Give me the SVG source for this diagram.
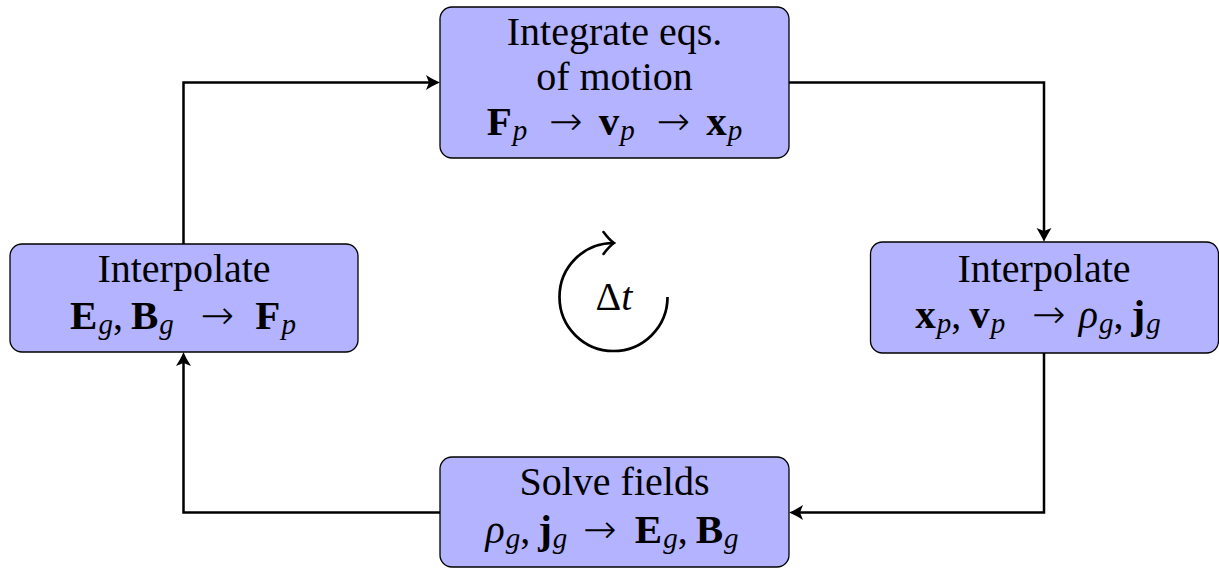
<svg xmlns="http://www.w3.org/2000/svg" width="1219" height="568" viewBox="0 0 1219 568">
<style>
.box{fill:#b3b3ff;stroke:#000;stroke-width:1.3}
.t{font-family:"Liberation Serif","DejaVu Serif",serif;font-size:40px;fill:#000}
.b{font-weight:bold;font-size:41px}
.i{font-style:italic}
.s{font-style:italic;font-size:29px}
.ar{font-family:"DejaVu Sans",sans-serif;font-weight:200;font-size:40px}
.c{fill:none;stroke:#000;stroke-width:2.5}
</style>
<defs>
<marker id="ah" markerUnits="userSpaceOnUse" viewBox="-16 -9 17 18" markerWidth="17" markerHeight="18" refX="-6" refY="0" orient="auto">
<path d="M0,0 C-5,-2 -10,-5 -14,-7.5 L-11,0 L-14,7.5 C-10,5 -5,2 0,0 Z" fill="#000"/>
</marker>
<marker id="to" markerUnits="userSpaceOnUse" viewBox="-14 -14 16 28" markerWidth="16" markerHeight="28" refX="0" refY="0" orient="auto">
<path d="M-10,-11 Q-4,-3 0.5,0 Q-4,3 -10,11" fill="none" stroke="#000" stroke-width="2.6" stroke-linecap="round"/>
</marker>
</defs>
<g id="connectors">
<path class="c" d="M183.5,244 V82.5 H434" marker-end="url(#ah)"/>
<path class="c" d="M789,82.5 H1044 V236" marker-end="url(#ah)"/>
<path class="c" d="M1044,353 V512.5 H795" marker-end="url(#ah)"/>
<path class="c" d="M440,512.5 H183.5 V358" marker-end="url(#ah)"/>
</g>
<g id="cycle">
<path d="M667.5,297 A54,54 0 1 1 613.5,243" fill="none" stroke="#000" stroke-width="2.7" marker-end="url(#to)"/>
<text class="t" x="614" y="310" text-anchor="middle">Δ<tspan class="i">t</tspan></text>
</g>
<g id="integrate">
<rect class="box" x="440" y="7" width="349" height="151" rx="12"/>
<text class="t" x="614.5" y="45" text-anchor="middle">Integrate eqs.</text>
<text class="t" x="614.5" y="90" text-anchor="middle">of motion</text>
<text class="t" x="614.5" y="135" text-anchor="middle"><tspan class="b">F</tspan><tspan class="s" dx="1" dy="5">p</tspan><tspan class="ar" dy="-5" dx="22">→</tspan><tspan class="b" dx="16">v</tspan><tspan class="s" dx="1" dy="5">p</tspan><tspan class="ar" dy="-5" dx="22">→</tspan><tspan class="b" dx="16">x</tspan><tspan class="s" dx="1" dy="5">p</tspan></text>
</g>
<g id="interp-left">
<rect class="box" x="10" y="244" width="348" height="108" rx="12"/>
<text class="t" x="184" y="282" text-anchor="middle">Interpolate</text>
<text class="t" x="183" y="329" text-anchor="middle"><tspan class="b">E</tspan><tspan class="s" dx="1" dy="5">g</tspan><tspan dy="-5">,</tspan><tspan class="b" dx="8">B</tspan><tspan class="s" dx="1" dy="5">g</tspan><tspan class="ar" dy="-5" dx="27">→</tspan><tspan class="b" dx="21">F</tspan><tspan class="s" dx="1" dy="5">p</tspan></text>
</g>
<g id="interp-right">
<rect class="box" x="870.5" y="242" width="348" height="111" rx="12"/>
<text class="t" x="1044" y="282" text-anchor="middle">Interpolate</text>
<text class="t" x="1038" y="328" text-anchor="middle"><tspan class="b">x</tspan><tspan class="s" dx="1" dy="5">p</tspan><tspan dy="-5">,</tspan><tspan class="b" dx="8">v</tspan><tspan class="s" dx="1" dy="5">p</tspan><tspan class="ar" dy="-5" dx="27">→</tspan><tspan class="i" dx="13">ρ</tspan><tspan class="s" dx="1" dy="5">g</tspan><tspan dy="-5">,</tspan><tspan class="b" dx="8">j</tspan><tspan class="s" dx="1" dy="5">g</tspan></text>
</g>
<g id="solve">
<rect class="box" x="440" y="457" width="349" height="110" rx="12"/>
<text class="t" x="614.5" y="495" text-anchor="middle">Solve fields</text>
<text class="t" x="612" y="543" text-anchor="middle"><tspan class="i">ρ</tspan><tspan class="s" dx="1" dy="5">g</tspan><tspan dy="-5">,</tspan><tspan class="b" dx="8">j</tspan><tspan class="s" dx="1" dy="5">g</tspan><tspan class="ar" dy="-5" dx="16">→</tspan><tspan class="b" dx="18">E</tspan><tspan class="s" dx="1" dy="5">g</tspan><tspan dy="-5">,</tspan><tspan class="b" dx="8">B</tspan><tspan class="s" dx="1" dy="5">g</tspan></text>
</g>
</svg>
